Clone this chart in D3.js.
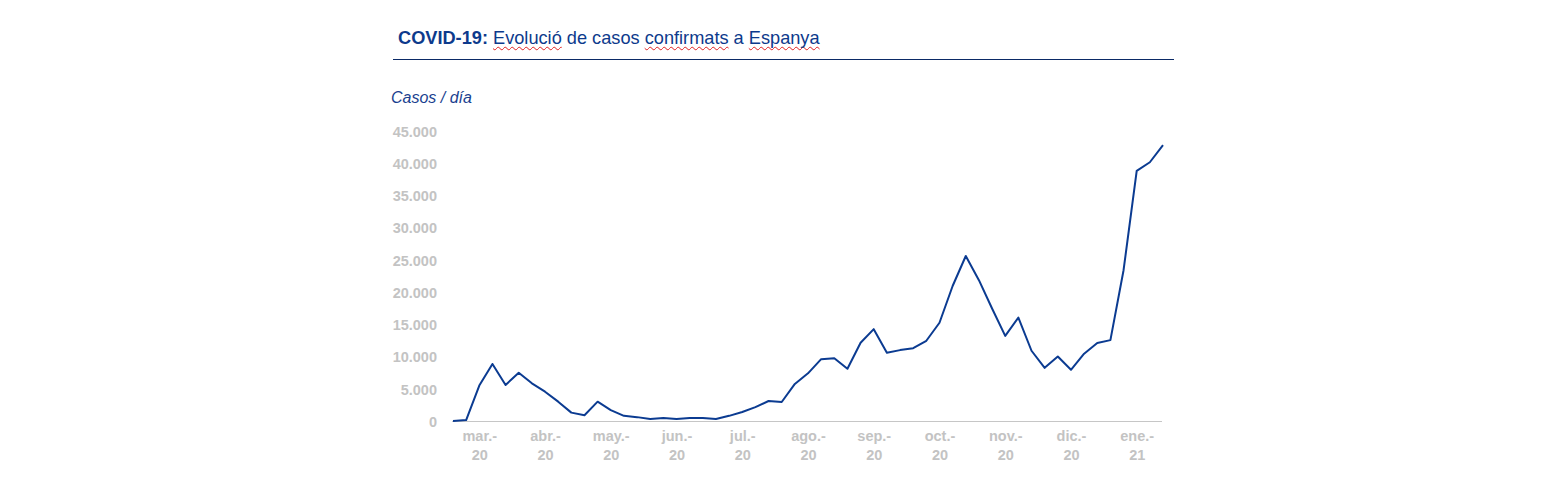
<!DOCTYPE html>
<html>
<head>
<meta charset="utf-8">
<script src="https://cdn.jsdelivr.net/npm/d3@7/dist/d3.min.js"></script>
<style>
  html, body { margin: 0; padding: 0; background: #fff; }
  body { width: 1567px; height: 491px; position: relative; overflow: hidden; font-family: "Liberation Sans", Arial, sans-serif; }
  #title { position: absolute; left: 398px; top: 28px; font-size: 18.2px; color: #0d3a8c; white-space: nowrap; }
  #title b { font-weight: bold; }
  #title .sp { text-decoration: underline wavy #e02020; text-decoration-thickness: 1px; text-underline-offset: 2px; text-decoration-skip-ink: none; }
  svg { position: absolute; left: 0; top: 0; }
</style>
</head>
<body>
<div id="title"><b>COVID-19:</b> <span class="sp">Evolució</span> de casos <span class="sp">confirmats</span> a <span class="sp">Espanya</span></div>
<svg id="chart" width="1567" height="491"></svg>
<script>
// Weekly confirmed cases (approx.)
const cases = [0, 150, 5500, 8850, 5600, 7500, 5850, 4550, 3000, 1300,
  900, 3000, 1700, 800, 600, 300, 450, 300, 450, 450,
  300, 800, 1400, 2150, 3100, 2950, 5750, 7400, 9600, 9750,
  8100, 12150, 14250, 10600, 11000, 11300, 12450, 15250, 20950, 25600,
  21850, 17450, 13200, 16050, 10900, 8250, 10000, 7950, 10450, 12100,
  12550, 23400, 38800, 40150, 42800];
const weeks = cases.map((_, i) => i);
const monthLabels = ["mar.-|20", "abr.-|20", "may.-|20", "jun.-|20", "jul.-|20", "ago.-|20",
  "sep.-|20", "oct.-|20", "nov.-|20", "dic.-|20", "ene.-|21"];
const monthWeeks = [2, 7, 12, 17, 22, 27, 32, 37, 42, 47, 52];
const yTicks = [0, 5000, 10000, 15000, 20000, 25000, 30000, 35000, 40000, 45000];

const svg = d3.select("#chart");
const x = d3.scalePoint().domain(weeks).range([453, 1163]);
const y = d3.scaleLinear().domain([0, 45000]).range([421, 131]);
const fmt = v => d3.format(",")(v).replace(/,/g, ".");

// header rule
svg.append("line").attr("x1", 393).attr("x2", 1174).attr("y1", 59.5).attr("y2", 59.5)
  .attr("stroke", "#0b2a66").attr("stroke-width", 1.2);

// y-axis title
svg.append("text").attr("x", 391).attr("y", 103)
  .attr("font-family", "Liberation Sans, Arial, sans-serif").attr("font-style", "italic")
  .attr("font-size", 16).attr("fill", "#1a3f8f").text("Casos / día");

// y axis
const yAxis = d3.axisLeft(y).tickValues(yTicks).tickFormat(fmt).tickSize(0).tickPadding(0);
const gy = svg.append("g").attr("transform", "translate(437,0)").call(yAxis);
gy.select(".domain").remove();
gy.selectAll("text").attr("font-family", "Liberation Sans, Arial, sans-serif")
  .attr("font-size", 14.5).attr("font-weight", "bold").attr("fill", "#c3c3c3").attr("dy", "0.36em");

// x axis
const xAxis = d3.axisBottom(x).tickValues(monthWeeks)
  .tickFormat((d, i) => monthLabels[i]).tickSize(0).tickSizeOuter(0).tickPadding(0);
const gx = svg.append("g").attr("transform", "translate(0,421)").call(xAxis);
gx.select(".domain").attr("d", `M452,0.5H1162`).attr("stroke", "#c6c6c6").attr("stroke-width", 1.2);
gx.selectAll(".tick text").each(function(d, i) {
  const parts = monthLabels[i].split("|");
  const t = d3.select(this).text(null).attr("y", null).attr("dy", null)
    .attr("font-family", "Liberation Sans, Arial, sans-serif")
    .attr("font-size", 14.5).attr("font-weight", "bold").attr("fill", "#c3c3c3");
  t.append("tspan").attr("x", 0).attr("y", 20).text(parts[0]);
  t.append("tspan").attr("x", 0).attr("y", 38.5).text(parts[1]);
});

// line
const line = d3.line().x((d, i) => x(weeks[i])).y(d => y(d));
svg.append("path").datum(cases).attr("d", line)
  .attr("fill", "none").attr("stroke", "#0b3b91").attr("stroke-width", 2)
  .attr("stroke-linejoin", "round");
</script>
</body>
</html>
